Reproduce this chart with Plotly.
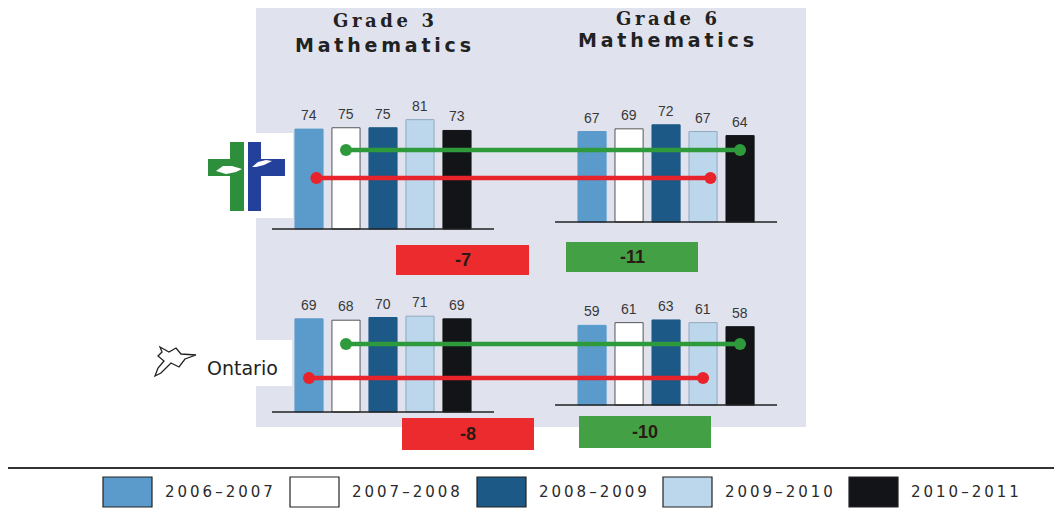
import plotly.graph_objects as go

# ---------------- data ----------------
years = ["2006–2007", "2007–2008", "2008–2009", "2009–2010", "2010–2011"]
grades = ["Grade 3", "Grade 6"]
subject = "Mathematics"
board_g3 = [74, 75, 75, 81, 73]
board_g6 = [67, 69, 72, 67, 64]
ontario_g3 = [69, 68, 70, 71, 69]
ontario_g6 = [59, 61, 63, 61, 58]
# cohort comparisons: (grade 3 year index, grade 6 year index)
cohort_green = (1, 4)
cohort_red = (0, 3)

# ---------------- style ----------------
PAGE_OFF = 8                 # default body margin of the html page
W, H = 1062 - 2 * PAGE_OFF, 521 - 2 * PAGE_OFF
UNIT = 37.0          # px per bar slot
ORIGIN = 309.0       # screen px of first bar centre
SCALE = 1.35         # px per percentage point
G6_OFFSET = 7.65     # slot offset of grade 6 group
BAR_W = 0.76
bar_colors = ["#5b9bcb", "#ffffff", "#1d5986", "#bcd7ec", "#131418"]
bar_edges = ["#5b9bcb", "#555555", "#1d5986", "#8ea9c0", "#131418"]
GREEN = "#2f9a3b"
RED = "#e8232b"
BOX_RED = "#ec2b2e"
BOX_GREEN = "#43a044"
PANEL = "#e0e3ee"

rows = [
    dict(g3=board_g3, g6=board_g6, base3=229, base6=222,
         lvl_green=150, lvl_red=178, red_shift=0.2,
         box_red=(396, 529, 245, 275), box_green=(566, 698, 242, 272)),
    dict(g3=ontario_g3, g6=ontario_g6, base3=412, base6=405,
         lvl_green=344, lvl_red=378, red_shift=0.0,
         box_red=(402, 534, 418, 450), box_green=(579, 711, 416, 448)),
]


def fx(x):
    return (x - PAGE_OFF) / W


def fy(y):
    return 1 - (y - PAGE_OFF) / H


def yrange(base):
    b = base - PAGE_OFF
    return [(b - H) / SCALE, b / SCALE]


def spaced(s, sep="\u2009"):
    return sep.join(list(s))


fig = go.Figure()
shapes = []
annotations = []

# background panel and logo backgrounds
shapes.append(dict(type="rect", xref="paper", yref="paper", x0=fx(256), x1=fx(806),
                   y0=fy(427), y1=fy(8), fillcolor=PANEL, line_width=0, layer="below"))
shapes.append(dict(type="rect", xref="paper", yref="paper", x0=fx(196), x1=fx(293),
                   y0=fy(218), y1=fy(133), fillcolor="white", line_width=0, layer="below"))
shapes.append(dict(type="rect", xref="paper", yref="paper", x0=fx(196), x1=fx(292),
                   y0=fy(386), y1=fy(340), fillcolor="white", line_width=0, layer="below"))

xs3 = [i for i in range(len(years))]
xs6 = [G6_OFFSET + i for i in range(len(years))]

for r, row in enumerate(rows):
    ya3 = "y" if r == 0 else "y3"
    ya6 = "y2" if r == 0 else "y4"
    for xs, vals, ya in ((xs3, row["g3"], ya3), (xs6, row["g6"], ya6)):
        fig.add_trace(go.Bar(x=xs, y=vals, yaxis=ya, width=BAR_W,
                             marker=dict(color=bar_colors, line=dict(color=bar_edges, width=1)),
                             showlegend=False, hoverinfo="skip"))
        # baseline
        shapes.append(dict(type="line", xref="x", yref=ya, x0=xs[0] - 1.0, x1=xs[-1] + 1.0,
                           y0=0, y1=0, line=dict(color="#222222", width=1.5)))
        for x, v in zip(xs, vals):
            annotations.append(dict(x=x, y=v, xref="x", yref=ya, text=str(v), showarrow=False,
                                    xanchor="center", yanchor="bottom", yshift=4,
                                    font=dict(family="Liberation Sans", size=14, color="#383838")))
    # cohort lines (drawn on the grade 6 axis so they sit above every bar of the row)
    lvl_g = (row["base6"] - row["lvl_green"]) / SCALE
    lvl_r = (row["base6"] - row["lvl_red"]) / SCALE
    gi, gj = cohort_green
    ri, rj = cohort_red
    fig.add_trace(go.Scatter(x=[xs3[gi], xs6[gj]], y=[lvl_g, lvl_g], yaxis=ya6, mode="lines+markers",
                             line=dict(color=GREEN, width=4.5), marker=dict(size=12, color=GREEN),
                             showlegend=False, hoverinfo="skip"))
    fig.add_trace(go.Scatter(x=[xs3[ri] + row["red_shift"], xs6[rj] + row["red_shift"]], y=[lvl_r, lvl_r],
                             yaxis=ya6, mode="lines+markers",
                             line=dict(color=RED, width=4.5), marker=dict(size=12, color=RED),
                             showlegend=False, hoverinfo="skip"))
    # difference boxes
    d_red = row["g6"][rj] - row["g3"][ri]
    d_green = row["g6"][gj] - row["g3"][gi]
    for (x0, x1, y0, y1), col, d in ((row["box_red"], BOX_RED, d_red), (row["box_green"], BOX_GREEN, d_green)):
        shapes.append(dict(type="rect", xref="paper", yref="paper", x0=fx(x0), x1=fx(x1),
                           y0=fy(y1), y1=fy(y0), fillcolor=col, line_width=0))
        annotations.append(dict(x=fx((x0 + x1) / 2), y=fy((y0 + y1) / 2), xref="paper", yref="paper",
                                text="<b>%d</b>" % d, showarrow=False, xanchor="center", yanchor="middle",
                                font=dict(family="Liberation Sans", size=18, color="#2a1a14")))

# group titles
for g, xc, y1, y2 in ((grades[0], xs3[2], 20, 45), (grades[1], xs6[2], 18, 40)):
    annotations.append(dict(x=xc, y=fy(y1), xref="x", yref="paper", text="<b>%s</b>" % spaced(g),
                            showarrow=False, xanchor="center", yanchor="middle",
                            font=dict(family="DejaVu Serif", size=18, color="#222222")))
    annotations.append(dict(x=xc, y=fy(y2), xref="x", yref="paper", text="<b>%s</b>" % spaced(subject),
                            showarrow=False, xanchor="center", yanchor="middle",
                            font=dict(family="DejaVu Sans", size=19, color="#222222")))


# board logo (cross)
def prect(x0, x1, y0, y1, col):
    return dict(type="rect", xref="paper", yref="paper", x0=fx(x0), x1=fx(x1),
                y0=fy(y1), y1=fy(y0), fillcolor=col, line_width=0)


shapes.append(prect(230, 244, 142, 211, "#2d8f3c"))
shapes.append(prect(208, 244, 159, 176, "#2d8f3c"))
shapes.append(prect(248, 261, 142, 211, "#23409a"))
shapes.append(prect(248, 285, 159, 176, "#23409a"))


def ppath(pts, close=True):
    s = "M " + " L ".join("%.5f,%.5f" % (fx(x), fy(y)) for x, y in pts)
    return s + (" Z" if close else "")


shapes.append(dict(type="path", xref="paper", yref="paper",
                   path=ppath([(216, 171), (223, 166), (232, 166), (242, 169), (236, 172), (226, 174)]),
                   fillcolor="white", line_width=0))
shapes.append(dict(type="path", xref="paper", yref="paper",
                   path=ppath([(252, 167), (258, 162), (266, 160), (272, 161), (264, 165), (256, 167)]),
                   fillcolor="white", line_width=0))

# Ontario logo (trillium outline)
shapes.append(dict(type="path", xref="paper", yref="paper",
                   path=ppath([(160, 347), (169, 352), (176, 348), (181, 354), (196, 355), (185, 359),
                               (179, 367), (171, 363), (161, 373), (155, 376), (158, 368), (164, 361),
                               (158, 356), (162, 352)]),
                   fillcolor="rgba(0,0,0,0)", line=dict(color="#222222", width=1.3)))
annotations.append(dict(x=fx(242), y=fy(368), xref="paper", yref="paper", text="Ontario", showarrow=False,
                        xanchor="center", yanchor="middle",
                        font=dict(family="DejaVu Sans", size=19, color="#222222")))

# legend
shapes.append(dict(type="line", xref="paper", yref="paper", x0=fx(8), x1=1, y0=fy(468), y1=fy(468),
                   line=dict(color="#333333", width=2)))
shapes.append(dict(type="line", xref="paper", yref="paper", x0=fx(8), x1=1, y0=fy(516), y1=fy(516),
                   line=dict(color="#777777", width=2)))
leg_x = [103, 290, 477, 663, 849]
for i, yr in enumerate(years):
    x0 = leg_x[i]
    shapes.append(dict(type="rect", xref="paper", yref="paper", x0=fx(x0), x1=fx(x0 + 49),
                       y0=fy(507), y1=fy(477), fillcolor=bar_colors[i],
                       line=dict(color="#222222", width=1.2)))
    annotations.append(dict(x=fx(x0 + 60), y=fy(492), xref="paper", yref="paper", text=spaced(yr),
                            xanchor="left", yanchor="middle", showarrow=False,
                            font=dict(family="DejaVu Sans", size=15, color="#2a2a2a")))

ax_common = dict(visible=False, fixedrange=True, domain=[0, 1])
fig.update_layout(
    width=W, height=H, margin=dict(l=0, r=0, t=0, b=0),
    paper_bgcolor="white", plot_bgcolor="rgba(0,0,0,0)",
    barmode="overlay", showlegend=False,
    xaxis=dict(visible=False, fixedrange=True, domain=[0, 1],
               range=[(PAGE_OFF - ORIGIN) / UNIT, (PAGE_OFF + W - ORIGIN) / UNIT]),
    yaxis=dict(ax_common, range=yrange(rows[0]["base3"])),
    yaxis2=dict(ax_common, range=yrange(rows[0]["base6"]), overlaying="y"),
    yaxis3=dict(ax_common, range=yrange(rows[1]["base3"]), overlaying="y"),
    yaxis4=dict(ax_common, range=yrange(rows[1]["base6"]), overlaying="y"),
    shapes=shapes, annotations=annotations,
)

fig.write_html("out.html")
